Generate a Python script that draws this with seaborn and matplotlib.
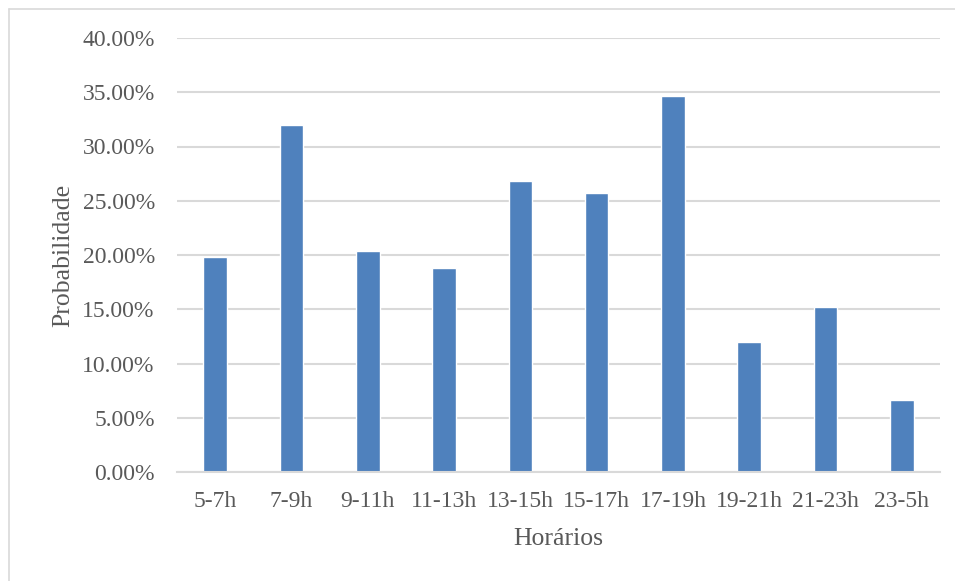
import matplotlib
matplotlib.use("Agg")
import matplotlib.pyplot as plt
import seaborn as sns
import pandas as pd
from matplotlib.ticker import FuncFormatter
from matplotlib.lines import Line2D

categories = ["5-7h", "7-9h", "9-11h", "11-13h", "13-15h", "15-17h", "17-19h", "19-21h", "21-23h", "23-5h"]
values = [0.198, 0.320, 0.204, 0.188, 0.2685, 0.2575, 0.3465, 0.120, 0.1525, 0.0665]
yticks = [0.0, 0.05, 0.10, 0.15, 0.20, 0.25, 0.30, 0.35, 0.40]

sns.set_theme(style="white")
plt.rcParams['font.family'] = ['Liberation Serif', 'DejaVu Serif']

df = pd.DataFrame({"Horários": categories, "Probabilidade": values})

fig = plt.figure(figsize=(9.55, 5.81), dpi=100)
ax = fig.add_axes([177/955, 1 - 472/581, (940 - 177)/955, (472 - 38)/581])

text_color = "#595959"
grid_color = "#d9d9d9"

sns.barplot(data=df, x="Horários", y="Probabilidade", color="#4f81bd",
            width=0.31, saturation=1, ax=ax, zorder=3)

ax.set_ylim(0, 0.40)
ax.set_xlim(-0.5, len(categories) - 0.5)
ax.set_yticks(yticks)
ax.yaxis.set_major_formatter(FuncFormatter(lambda v, p: f"{v*100:.2f}%"))
ax.grid(axis="y", color=grid_color, linewidth=1.5, zorder=0)
ax.grid(axis="x", visible=False)
for s in ["top", "right", "left"]:
    ax.spines[s].set_visible(False)
ax.spines["bottom"].set_color(grid_color)
ax.spines["bottom"].set_linewidth(1.5)
ax.spines["bottom"].set_zorder(4)

ax.tick_params(axis="y", length=0, pad=16, labelsize=17, labelcolor=text_color)
ax.tick_params(axis="x", length=0, pad=14, labelsize=17, labelcolor=text_color)

ax.set_xlabel("Horários", fontsize=18.5, color=text_color, labelpad=11)
ax.set_ylabel("Probabilidade", fontsize=18.5, color=text_color, labelpad=6)

# outer chart border (top and left visible)
fig.add_artist(Line2D([9/955, 1.0], [1 - 9/581, 1 - 9/581], transform=fig.transFigure,
                      color=grid_color, linewidth=1.2))
fig.add_artist(Line2D([9/955, 9/955], [0.0, 1 - 9/581], transform=fig.transFigure,
                      color=grid_color, linewidth=1.2))

fig.savefig("out.png", dpi=100)
